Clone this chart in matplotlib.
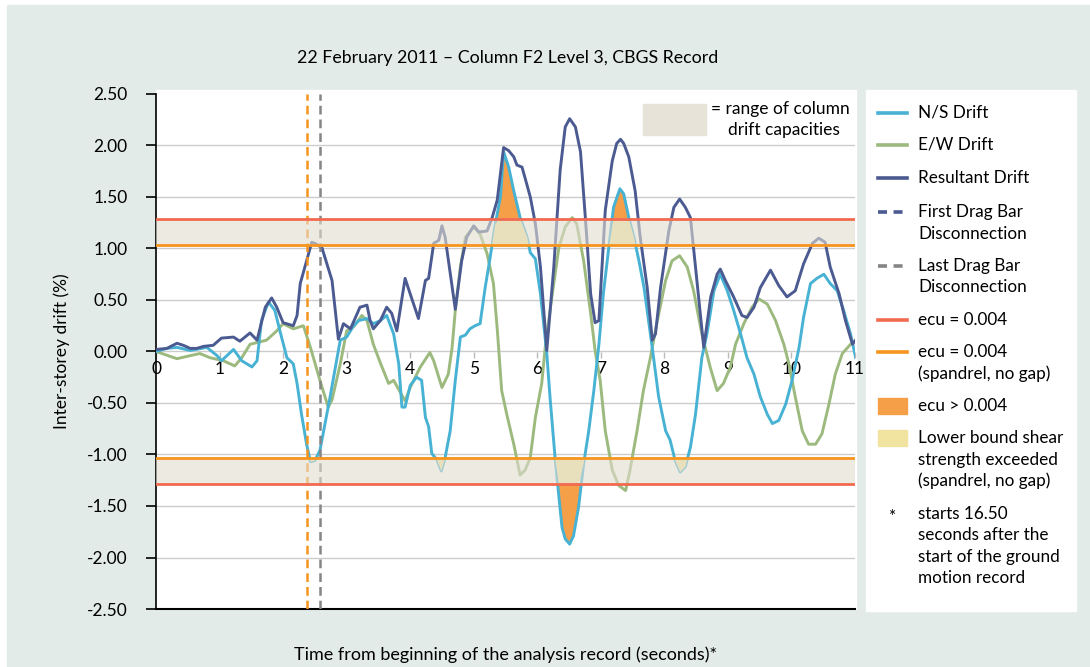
import numpy as np
import matplotlib.pyplot as plt
from matplotlib.patches import Rectangle
from matplotlib.lines import Line2D

plt.rcParams['font.family'] = ['Lato', 'DejaVu Sans']

# data (time in s, drift in %)
t_ns = [0.00, 0.17, 0.33, 0.54, 0.80, 0.96, 1.03, 1.22, 1.35, 1.51, 1.59, 1.66, 1.77, 1.87, 1.95,
        2.06, 2.16, 2.22, 2.29, 2.37, 2.43, 2.50, 2.58, 2.66, 2.74, 2.85, 2.90, 3.00, 3.11, 3.19,
        3.32, 3.42, 3.53, 3.63, 3.74, 3.82, 3.87, 3.92, 4.00, 4.10, 4.18, 4.24, 4.29, 4.34, 4.42,
        4.49, 4.55, 4.63, 4.71, 4.79, 4.87, 4.94, 5.02, 5.10, 5.18, 5.26, 5.34, 5.42, 5.47, 5.55,
        5.63, 5.73, 5.84, 5.89, 5.97, 6.05, 6.15, 6.20, 6.28, 6.34, 6.39, 6.44, 6.51, 6.57, 6.65,
        6.73, 6.81, 6.89, 6.97, 7.04, 7.12, 7.20, 7.30, 7.36, 7.44, 7.52, 7.60, 7.68, 7.78, 7.83,
        7.91, 8.02, 8.09, 8.17, 8.25, 8.33, 8.41, 8.49, 8.59, 8.67, 8.78, 8.88, 8.99, 9.09, 9.20,
        9.30, 9.41, 9.51, 9.62, 9.70, 9.80, 9.91, 10.01, 10.12, 10.19, 10.30, 10.40, 10.51, 10.61,
        10.72, 10.82, 10.93, 11.01]
ns = [0.00, 0.03, 0.04, 0.01, 0.04, -0.04, -0.09, 0.02, -0.09, -0.15, -0.09, 0.30, 0.48, 0.40, 0.20,
      -0.06, -0.12, -0.31, -0.61, -0.90, -1.07, -1.06, -0.96, -0.70, -0.44, -0.06, 0.11, 0.14, 0.25, 0.30,
      0.32, 0.27, 0.30, 0.35, 0.17, -0.12, -0.54, -0.54, -0.33, -0.25, -0.28, -0.64, -0.73, -0.99, -1.05,
      -1.16, -1.03, -0.77, -0.28, 0.14, 0.16, 0.22, 0.25, 0.27, 0.62, 0.92, 1.24, 1.50, 1.94, 1.79,
      1.56, 1.30, 1.11, 0.96, 0.90, 0.56, -0.02, -0.44, -1.03, -1.41, -1.71, -1.82, -1.87, -1.79, -1.51,
      -1.09, -0.77, -0.38, 0.07, 0.56, 0.98, 1.40, 1.58, 1.53, 1.30, 1.11, 0.88, 0.62, 0.17, -0.06,
      -0.44, -0.77, -0.86, -1.06, -1.17, -1.12, -0.93, -0.61, -0.06, 0.17, 0.59, 0.75, 0.59, 0.40, 0.17,
      -0.06, -0.22, -0.44, -0.61, -0.70, -0.67, -0.51, -0.28, 0.04, 0.33, 0.66, 0.71, 0.75, 0.66,
      0.59, 0.40, 0.17, -0.06]

t_ew = [0.00, 0.33, 0.54, 0.69, 0.85, 1.06, 1.24, 1.35, 1.48, 1.74, 1.90, 2.00, 2.16, 2.32, 2.43,
        2.58, 2.66, 2.71, 2.77, 2.90, 3.00, 3.11, 3.24, 3.32, 3.42, 3.53, 3.66, 3.74, 3.92, 4.00,
        4.16, 4.31, 4.37, 4.50, 4.60, 4.66, 4.71, 4.79, 4.87, 5.00, 5.10, 5.21, 5.31, 5.37, 5.44,
        5.52, 5.63, 5.73, 5.81, 5.89, 5.97, 6.07, 6.13, 6.23, 6.34, 6.44, 6.55, 6.62, 6.73, 6.84,
        6.91, 6.99, 7.07, 7.18, 7.28, 7.39, 7.46, 7.57, 7.67, 7.78, 7.88, 8.02, 8.12, 8.24, 8.36,
        8.46, 8.59, 8.72, 8.83, 8.93, 9.04, 9.12, 9.25, 9.38, 9.49, 9.62, 9.75, 9.88, 9.96, 10.06,
        10.17, 10.27, 10.38, 10.48, 10.59, 10.69, 10.80, 10.93, 11.00]
ew = [0.00, -0.07, -0.04, -0.02, -0.06, -0.09, -0.14, -0.06, 0.07, 0.11, 0.20, 0.27, 0.22, 0.25, 0.04,
      -0.28, -0.44, -0.54, -0.47, -0.12, 0.20, 0.24, 0.35, 0.30, 0.07, -0.11, -0.31, -0.28, -0.48, -0.35,
      -0.15, -0.01, -0.09, -0.35, -0.22, 0.04, 0.40, 0.82, 1.11, 1.21, 1.14, 0.95, 0.66, 0.22, -0.38,
      -0.61, -0.90, -1.20, -1.15, -1.03, -0.64, -0.31, 0.07, 0.53, 1.01, 1.21, 1.30, 1.24, 0.88, 0.37,
      0.01, -0.28, -0.77, -1.15, -1.30, -1.35, -1.15, -0.77, -0.38, -0.06, 0.27, 0.69, 0.88, 0.93, 0.82,
      0.59, 0.17, -0.15, -0.38, -0.31, -0.15, 0.07, 0.27, 0.43, 0.51, 0.46, 0.30, 0.07, -0.12, -0.44,
      -0.77, -0.90, -0.90, -0.80, -0.51, -0.22, -0.02, 0.07, 0.10]

t_res = [0.00, 0.17, 0.33, 0.43, 0.54, 0.64, 0.75, 0.90, 1.03, 1.22, 1.32, 1.48, 1.59, 1.72, 1.82,
         1.90, 2.00, 2.16, 2.22, 2.27, 2.37, 2.45, 2.50, 2.61, 2.69, 2.77, 2.87, 2.95, 3.06, 3.21,
         3.32, 3.37, 3.42, 3.53, 3.63, 3.71, 3.79, 3.92, 4.00, 4.13, 4.24, 4.29, 4.37, 4.45, 4.50,
         4.55, 4.71, 4.81, 4.89, 5.00, 5.08, 5.21, 5.29, 5.37, 5.47, 5.55, 5.63, 5.68, 5.76, 5.81,
         5.89, 5.97, 6.05, 6.15, 6.26, 6.36, 6.44, 6.51, 6.60, 6.68, 6.76, 6.84, 6.91, 6.97, 7.07,
         7.18, 7.25, 7.31, 7.36, 7.44, 7.54, 7.62, 7.73, 7.81, 7.86, 7.94, 8.07, 8.15, 8.24, 8.33,
         8.41, 8.49, 8.62, 8.73, 8.83, 8.88, 8.96, 9.09, 9.22, 9.30, 9.41, 9.51, 9.67, 9.80, 9.93,
         10.06, 10.19, 10.33, 10.43, 10.53, 10.61, 10.75, 10.85, 10.96, 11.02]
res = [0.02, 0.03, 0.08, 0.06, 0.03, 0.03, 0.05, 0.06, 0.13, 0.14, 0.10, 0.18, 0.11, 0.43, 0.52,
       0.43, 0.28, 0.25, 0.35, 0.66, 0.88, 1.06, 1.05, 1.01, 0.85, 0.69, 0.12, 0.27, 0.22, 0.43,
       0.45, 0.30, 0.22, 0.30, 0.43, 0.37, 0.20, 0.71, 0.56, 0.32, 0.69, 0.71, 1.05, 1.08, 1.22,
       1.11, 0.41, 0.88, 1.11, 1.22, 1.16, 1.17, 1.30, 1.47, 1.98, 1.95, 1.89, 1.81, 1.79, 1.68,
       1.50, 1.24, 0.82, 0.01, 0.82, 1.76, 2.18, 2.26, 2.18, 1.94, 1.27, 0.56, 0.28, 0.30, 1.37,
       1.85, 2.02, 2.06, 2.02, 1.89, 1.56, 1.11, 0.62, 0.11, 0.17, 0.62, 1.17, 1.40, 1.48, 1.40,
       1.30, 0.82, 0.04, 0.53, 0.75, 0.80, 0.69, 0.53, 0.35, 0.33, 0.43, 0.62, 0.79, 0.64, 0.53,
       0.59, 0.85, 1.05, 1.10, 1.06, 0.82, 0.56, 0.30, 0.07, 0.12]

ecu_line = 1.29          # ecu = 0.004
spandrel_line = 1.03     # ecu = 0.004 (spandrel, no gap)
first_drag = 2.38
last_drag = 2.58
yticks = [2.5, 2.0, 1.5, 1.0, 0.5, 0.0, -0.5, -1.0, -1.5, -2.0, -2.5]
xticks = list(range(0, 12))

c_ns = '#47b2d4'
c_ew = '#9cba7e'
c_res = '#4b5a91'
c_red = '#f26a4f'
c_orange = '#f7941d'
c_gray = '#858585'
c_fill_or = '#f59f48'
c_fill_ye = '#f1e4a0'
c_band = '#e2ddd0'
c_bg = '#e3ebe9'

W, H = 1090, 667
def fx(x):
    return x / W
def fy(y):
    return 1 - y / H

fig = plt.figure(figsize=(10.9, 6.67), dpi=100)
fig.patch.set_facecolor('white')
fig.add_artist(Rectangle((fx(7), 0), 1 - fx(7), fy(5), transform=fig.transFigure,
                         color=c_bg, zorder=-10))
fig.add_artist(Rectangle((fx(156), fy(609)), fx(856) - fx(156), fy(90) - fy(609),
                         transform=fig.transFigure, color='white', zorder=-9))
fig.add_artist(Rectangle((fx(866), fy(611)), fx(1076) - fx(866), fy(90) - fy(611),
                         transform=fig.transFigure, color='white', zorder=-9))

ax = fig.add_axes([fx(156), fy(609), fx(855) - fx(156), fy(94) - fy(609)])
ax.set_facecolor('white')

t_ns = np.array(t_ns)
ns = np.array(ns)

# grid
for y in yticks[1:-1]:
    ax.axhline(y, color='#cccccc', lw=1, zorder=1)

# ecu > 0.004 fills
ax.fill_between(t_ns, ecu_line, ns, where=ns > ecu_line, interpolate=True,
                color=c_fill_or, lw=0, zorder=2)
ax.fill_between(t_ns, -ecu_line, ns, where=ns < -ecu_line, interpolate=True,
                color=c_fill_or, lw=0, zorder=2)

ax.plot(t_ew, ew, color=c_ew, lw=2.1, zorder=3)
ax.plot(t_ns, ns, color=c_ns, lw=2.1, zorder=3.1)
ax.plot(t_res, res, color=c_res, lw=2.1, zorder=3.2)

# lower bound shear exceeded fills
ax.fill_between(t_ns, spandrel_line, np.minimum(ns, ecu_line), where=ns > spandrel_line,
                interpolate=True, color=c_fill_ye, lw=0, zorder=4)
ax.fill_between(t_ns, -spandrel_line, np.maximum(ns, -ecu_line), where=ns < -spandrel_line,
                interpolate=True, color=c_fill_ye, lw=0, zorder=4)

ax.axvline(first_drag, color=c_orange, lw=1.8, ls=(0, (3.5, 2)), zorder=4.5)
ax.axvline(last_drag, color=c_gray, lw=1.8, ls=(0, (3.5, 2)), zorder=4.5)

# range of column drift capacities
ax.axhspan(spandrel_line, ecu_line, color=c_band, alpha=0.6, lw=0, zorder=5)
ax.axhspan(-ecu_line, -spandrel_line, color=c_band, alpha=0.6, lw=0, zorder=5)

ax.axhline(ecu_line, color=c_red, lw=2, zorder=6)
ax.axhline(-ecu_line, color=c_red, lw=2, zorder=6)
ax.axhline(spandrel_line, color=c_orange, lw=2, zorder=6)
ax.axhline(-spandrel_line, color=c_orange, lw=2, zorder=6)

ax.set_xlim(0, 11)
ax.set_ylim(-2.5, 2.5)
ax.set_xticks([])
ax.set_yticks(yticks)
ax.set_yticklabels([f'{v:.2f}' for v in yticks])
ax.tick_params(axis='y', length=7.5, width=1.2, direction='out', pad=13, labelsize=12.5,
               color='black')
for s in ['top', 'right']:
    ax.spines[s].set_visible(False)
ax.spines['left'].set_linewidth(1.2)
ax.spines['bottom'].set_linewidth(1.5)

# time tick labels sit on the zero line
sec = ax.secondary_xaxis(0.5)
sec.set_alignment('bottom')
sec.set_xticks(xticks)
sec.set_xticklabels([str(v) for v in xticks])
for s in sec.spines.values():
    s.set_visible(False)
sec.tick_params(axis='x', length=4, width=1, color='#bbbbbb', pad=3, labelsize=12.5)

ax.set_ylabel('Inter-storey drift (%)', fontsize=12.5, va='center')
ax.yaxis.set_label_coords((62 - 156) / 700, 0.5)

fig.text(fx(508), fy(58), '22 February 2011 \u2013 Column F2 Level 3, CBGS Record',
         ha='center', va='center', fontsize=12.8)
fig.text(fx(505), fy(655), 'Time from beginning of the analysis record (seconds)*',
         ha='center', va='center', fontsize=13)

# in-plot key for the capacity band
fig.add_artist(Rectangle((fx(643), fy(135)), fx(706) - fx(643), fy(104) - fy(135),
                         transform=fig.transFigure, color='#e7e3d9', zorder=5))
fig.text(fx(711), fy(109), '= range of column', ha='left', va='center', fontsize=12.5)
fig.text(fx(728), fy(130), 'drift capacities', ha='left', va='center', fontsize=12.5)

# legend panel
hx0, hx1, tx = 878, 907, 918
line_entries = [
    (113, c_ns, '-', ['N/S Drift']),
    (145, c_ew, '-', ['E/W Drift']),
    (178, c_res, '-', ['Resultant Drift']),
    (212, c_res, (0, (2.5, 1.8)), ['First Drag Bar', 'Disconnection']),
    (266, c_gray, (0, (2.5, 1.8)), ['Last Drag Bar', 'Disconnection']),
    (320, c_red, '-', ['ecu = 0.004']),
    (352, c_orange, '-', ['ecu = 0.004', '(spandrel, no gap)']),
]
for y, c, ls, lines in line_entries:
    fig.add_artist(Line2D([fx(hx0), fx(hx1)], [fy(y), fy(y)], color=c, lw=2.6, ls=ls,
                          transform=fig.transFigure))
    for i, s in enumerate(lines):
        fig.text(fx(tx), fy(y + i * 21.5), s, ha='left', va='center', fontsize=12.3)

patch_entries = [
    (406, c_fill_or, ['ecu > 0.004']),
    (438, c_fill_ye, ['Lower bound shear', 'strength exceeded', '(spandrel, no gap)']),
]
for y, c, lines in patch_entries:
    fig.add_artist(Rectangle((fx(hx0), fy(y + 8)), fx(hx1) - fx(hx0), fy(y - 8) - fy(y + 8),
                             transform=fig.transFigure, color=c))
    for i, s in enumerate(lines):
        fig.text(fx(tx), fy(y + i * 21.5), s, ha='left', va='center', fontsize=12.3)

fig.text(fx(893), fy(517), '*', ha='center', va='center', fontsize=12.5)
for i, s in enumerate(['starts 16.50', 'seconds after the', 'start of the ground',
                       'motion record']):
    fig.text(fx(tx), fy(514 + i * 21.3), s, ha='left', va='center', fontsize=12.3)

fig.savefig('out.png', dpi=100)
